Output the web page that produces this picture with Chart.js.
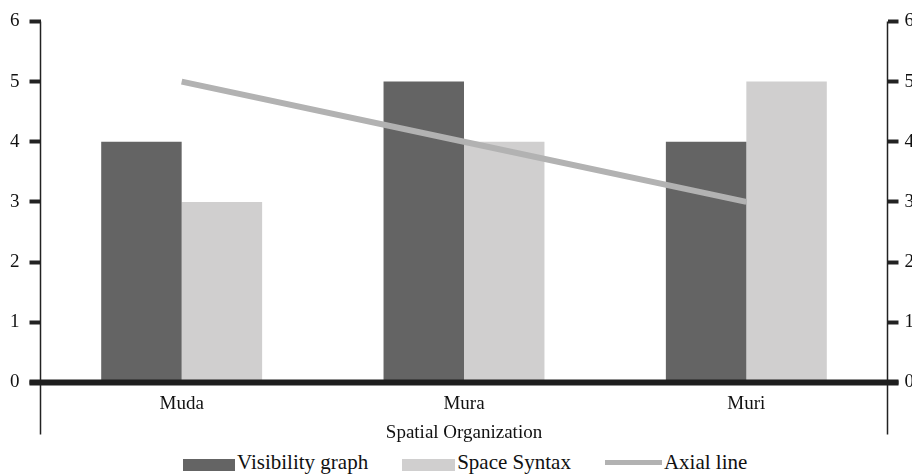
<!DOCTYPE html>
<html>
<head>
<meta charset="utf-8">
<script src="https://cdn.jsdelivr.net/npm/chart.js@4/dist/chart.umd.min.js"></script>
<style>
  html, body { margin: 0; padding: 0; background: #fff; overflow: hidden; }
  #wrap { width: 920px; height: 448px; }
  #legend {
    width: 912px; height: 28px; box-sizing: border-box; padding-left: 183px;
    display: flex; justify-content: flex-start; align-items: center;
    font-family: "Liberation Serif", "Times New Roman", serif; font-size: 21px; color: #111;
  }
  #legend .item { display: flex; align-items: center; margin-right: 34px; }
  #legend .swatch { display: inline-block; position: relative; margin-right: 2px; }
</style>
</head>
<body>
<div id="wrap"><canvas id="myChart"></canvas></div>
<div id="legend"></div>
<script>
var categories = ['Muda', 'Mura', 'Muri'];
var visibilityGraph = [4, 5, 4];
var spaceSyntax = [3, 4, 5];
var axialLine = [5, 4, 3];
var yTicks = [0, 1, 2, 3, 4, 5, 6];

var serif = '"Liberation Serif", "Times New Roman", serif';

// vertical axis lines drawn down past the zero line, like the original
var axisLines = {
    id: 'axisLines',
    afterDraw: function (chart) {
        var c = chart.ctx;
        var a = chart.chartArea;
        var bottom = a.bottom + 52;
        c.save();
        c.strokeStyle = '#222';
        c.lineWidth = 1.5;
        [chart.scales.y.right, chart.scales.y1.left].forEach(function (x) {
            c.beginPath();
            c.moveTo(x, a.top);
            c.lineTo(x, bottom);
            c.stroke();
        });
        // thick zero line
        c.lineWidth = 6;
        c.strokeStyle = '#1e1e1e';
        c.beginPath();
        c.moveTo(chart.scales.y.right - 11, chart.scales.y.getPixelForValue(0));
        c.lineTo(chart.scales.y1.left + 11, chart.scales.y.getPixelForValue(0));
        c.stroke();
        c.restore();
    }
};

// legend built in html so the item spacing can follow the original
var htmlLegend = {
    id: 'htmlLegend',
    afterUpdate: function (chart) {
        var box = document.getElementById('legend');
        box.innerHTML = '';
        chart.data.datasets.forEach(function (ds) {
            var item = document.createElement('span');
            item.className = 'item';
            var sw = document.createElement('span');
            sw.className = 'swatch';
            var isLine = ds.type === 'line';
            sw.style.background = isLine ? ds.borderColor : ds.backgroundColor;
            sw.style.width = ds.legendWidth + 'px';
            sw.style.height = (isLine ? 5 : 12) + 'px';
            sw.style.top = (isLine ? 0 : 3) + 'px';
            item.appendChild(sw);
            item.appendChild(document.createTextNode(ds.label));
            box.appendChild(item);
        });
    }
};

var ctx = document.getElementById('myChart').getContext('2d');

var myChart = new Chart(ctx, {
    type: 'bar',
    data: {
        labels: categories,
        datasets: [{
            label: 'Visibility graph',
            data: visibilityGraph,
            backgroundColor: '#646464',
            legendWidth: 52,
            order: 2
        }, {
            label: 'Space Syntax',
            data: spaceSyntax,
            backgroundColor: '#d0cfcf',
            legendWidth: 53,
            order: 2
        }, {
            label: 'Axial line',
            type: 'line',
            data: axialLine,
            borderColor: '#b2b2b2',
            backgroundColor: '#b2b2b2',
            borderWidth: 6,
            pointRadius: 0,
            legendWidth: 57,
            order: 1
        }]
    },
    options: {
        responsive: true,
        maintainAspectRatio: false,
        animation: false,
        layout: { padding: { top: 14, left: 0, right: 0, bottom: 0 } },
        datasets: {
            bar: { categoryPercentage: 0.57, barPercentage: 1.0 }
        },
        scales: {
            x: {
                grid: { display: false, drawTicks: false },
                border: { display: false },
                ticks: { color: '#111', font: { family: serif, size: 19 }, padding: 10 },
                title: {
                    display: true,
                    text: 'Spatial Organization',
                    color: '#111',
                    font: { family: serif, size: 19 },
                    padding: { top: -4, bottom: 4 }
                }
            },
            y: {
                position: 'left',
                min: 0,
                max: 6,
                afterBuildTicks: function (s) { s.ticks = yTicks.map(function (v) { return { value: v }; }); },
                grid: { drawOnChartArea: false, tickLength: 11, tickWidth: 4, color: '#222' },
                border: { display: false },
                ticks: { color: '#111', font: { family: serif, size: 19 }, padding: 10 }
            },
            y1: {
                position: 'right',
                min: 0,
                max: 6,
                afterBuildTicks: function (s) { s.ticks = yTicks.map(function (v) { return { value: v }; }); },
                grid: { drawOnChartArea: false, tickLength: 11, tickWidth: 4, color: '#222' },
                border: { display: false },
                ticks: { color: '#111', font: { family: serif, size: 19 }, padding: 6 }
            }
        },
        plugins: {
            legend: { display: false },
            tooltip: { enabled: false }
        }
    },
    plugins: [axisLines, htmlLegend]
});
</script>
</body>
</html>
